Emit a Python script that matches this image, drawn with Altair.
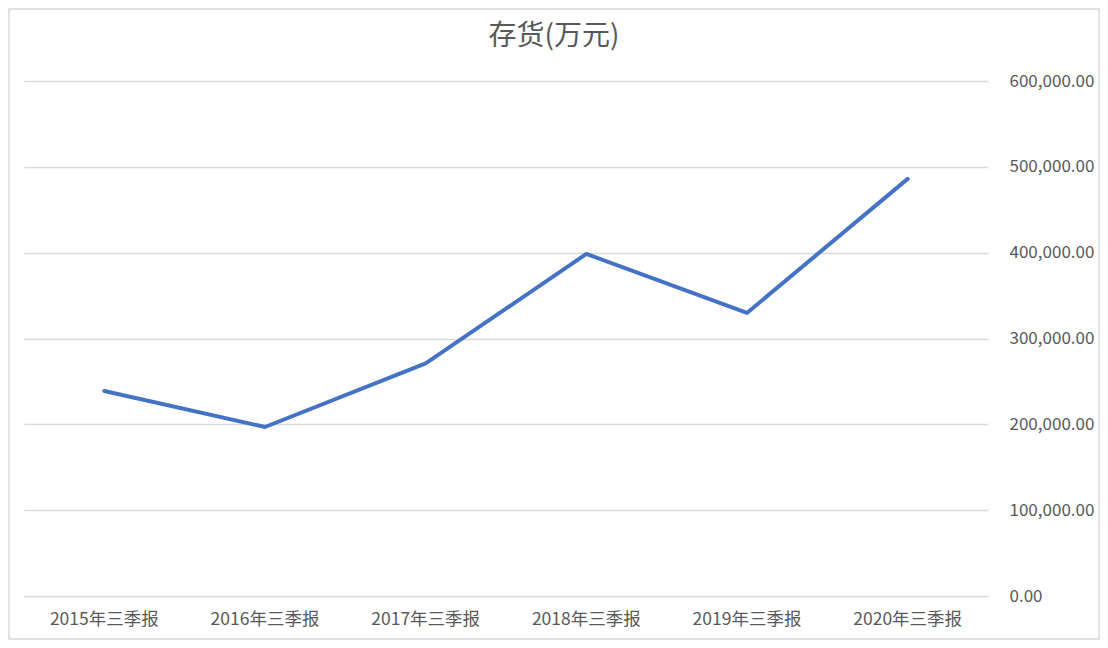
import altair as alt
import pandas as pd

categories = ["2015年三季报", "2016年三季报", "2017年三季报", "2018年三季报", "2019年三季报", "2020年三季报"]
values = [238800, 196900, 271000, 398500, 329800, 486000]
y_ticks = [0, 100000, 200000, 300000, 400000, 500000, 600000]

df = pd.DataFrame({"period": categories, "value": values})

W, H = 964, 515
PL, PT, PR, PB = 16, 73, 112, 44
FONT = "Noto Sans CJK SC"

base = alt.Chart(df)

line = base.mark_line(color="#4472C4", strokeWidth=4, strokeCap="round", strokeJoin="round").encode(
    x=alt.X("period:N", sort=categories, scale=alt.Scale(type="band", paddingInner=0, paddingOuter=0),
            axis=alt.Axis(title=None, domain=False, ticks=False, grid=False, labelAngle=0,
                          labelFont=FONT, labelFontSize=17.5, labelColor="#595959",
                          labelPadding=14, labelBaseline="top")),
    y=alt.Y("value:Q", scale=alt.Scale(domain=[0, 600000], nice=False),
            axis=alt.Axis(title=None, orient="right", values=y_ticks, format=",.2f",
                          domain=False, ticks=False, grid=True, gridColor="#d9d9d9", gridWidth=1.3,
                          labelFont=FONT, labelFontSize=17, labelColor="#595959",
                          labelPadding=21, labelAlign="left", labelBaseline="middle")),
)

frame = alt.Chart(pd.DataFrame({"f": [0]})).mark_rect(fill=None, stroke="#d9d9d9", strokeWidth=1.5).encode(
    x=alt.value(-PL + 1), x2=alt.value(W + PR - 1), y=alt.value(-PT + 1), y2=alt.value(H + PB - 1)
)

chart = alt.layer(frame, line).properties(
    width=W, height=H,
    title=alt.TitleParams("存货(万元)", font=FONT, fontSize=28, fontWeight="normal", color="#595959",
                          anchor="middle", frame="bounds", offset=-43),
    autosize=alt.AutoSizeParams(type="none"),
    padding={"left": PL, "top": PT, "right": PR, "bottom": PB},
).configure_view(stroke=None)

chart.save("out.html", embed_options={"renderer": "svg", "actions": False})
